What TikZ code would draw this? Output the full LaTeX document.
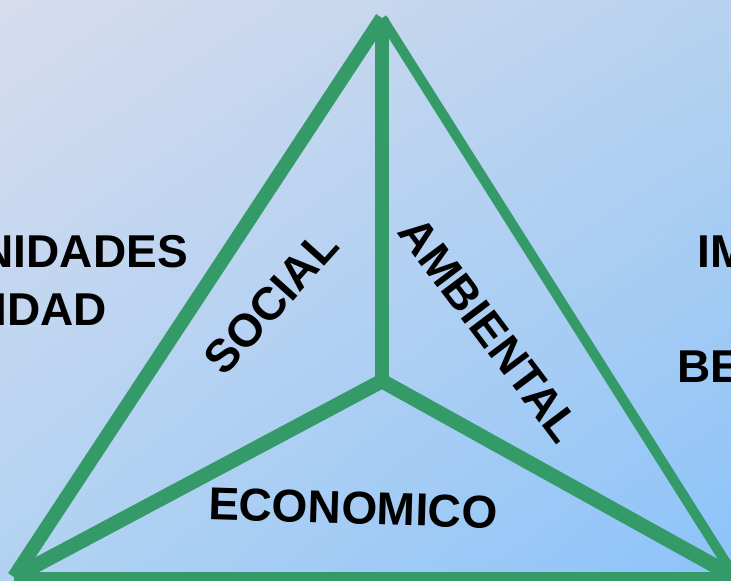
\documentclass[tikz,border=0pt]{standalone}
\usepackage{fontspec}
\setmainfont{Liberation Sans}
\usepackage{tikz}
\usetikzlibrary{shadings}
\definecolor{ecogreen}{RGB}{52,154,104}
\definecolor{bgtl}{RGB}{215,220,238}
\definecolor{bgtr}{RGB}{183,210,238}
\definecolor{bgbl}{RGB}{178,210,242}
\definecolor{bgbr}{RGB}{140,195,250}

\begin{document}
\begin{tikzpicture}
            [x=0.03cm, y=-0.03cm,
            side/.style={draw=ecogreen, line width=8.5pt},
            spoke/.style={draw=ecogreen, line width=12.5pt},
            word/.style={font=\fontsize{39.3}{47}\selectfont\bfseries, inner sep=0pt}]

            \useasboundingbox (0,0) rectangle (731,580);
            \clip (0,0) rectangle (731,580);
            \shade[upper left=bgtl, upper right=bgtr, lower left=bgbl, lower right=bgbr]
                (0,0) rectangle (731,580);

            \coordinate (apex) at (382,18);
            \coordinate (west) at (14,577);
            \coordinate (east) at (735,577);
            \coordinate (hub) at (382,381);

            \draw[side, line width=12pt] (apex) -- (west);
            \draw[side] (apex) -- (east);
            \draw[side] (west) -- (east);
            \draw[spoke] (apex) -- (hub);
            \draw[spoke] (west) -- (hub) -- (east);

            \node[word, rotate=48] (social) at (271,302) {SOCIAL};
            \node[word, rotate=-53] (ambiental) at (490,330) {AMBIENTAL};
            \node[word, rotate=-1.8] (economico) at (353,508) {ECONOMICO};
            \node[word, anchor=base east] (needs) at (188,267) {NIDADES};
            \node[word, anchor=base east] (equity) at (107,325) {IDAD};
            \node[word, anchor=base west] (impact) at (697,267) {IM};
            \node[word, anchor=base west] (welfare) at (677,382) {BE};
        \end{tikzpicture}
\end{document}
